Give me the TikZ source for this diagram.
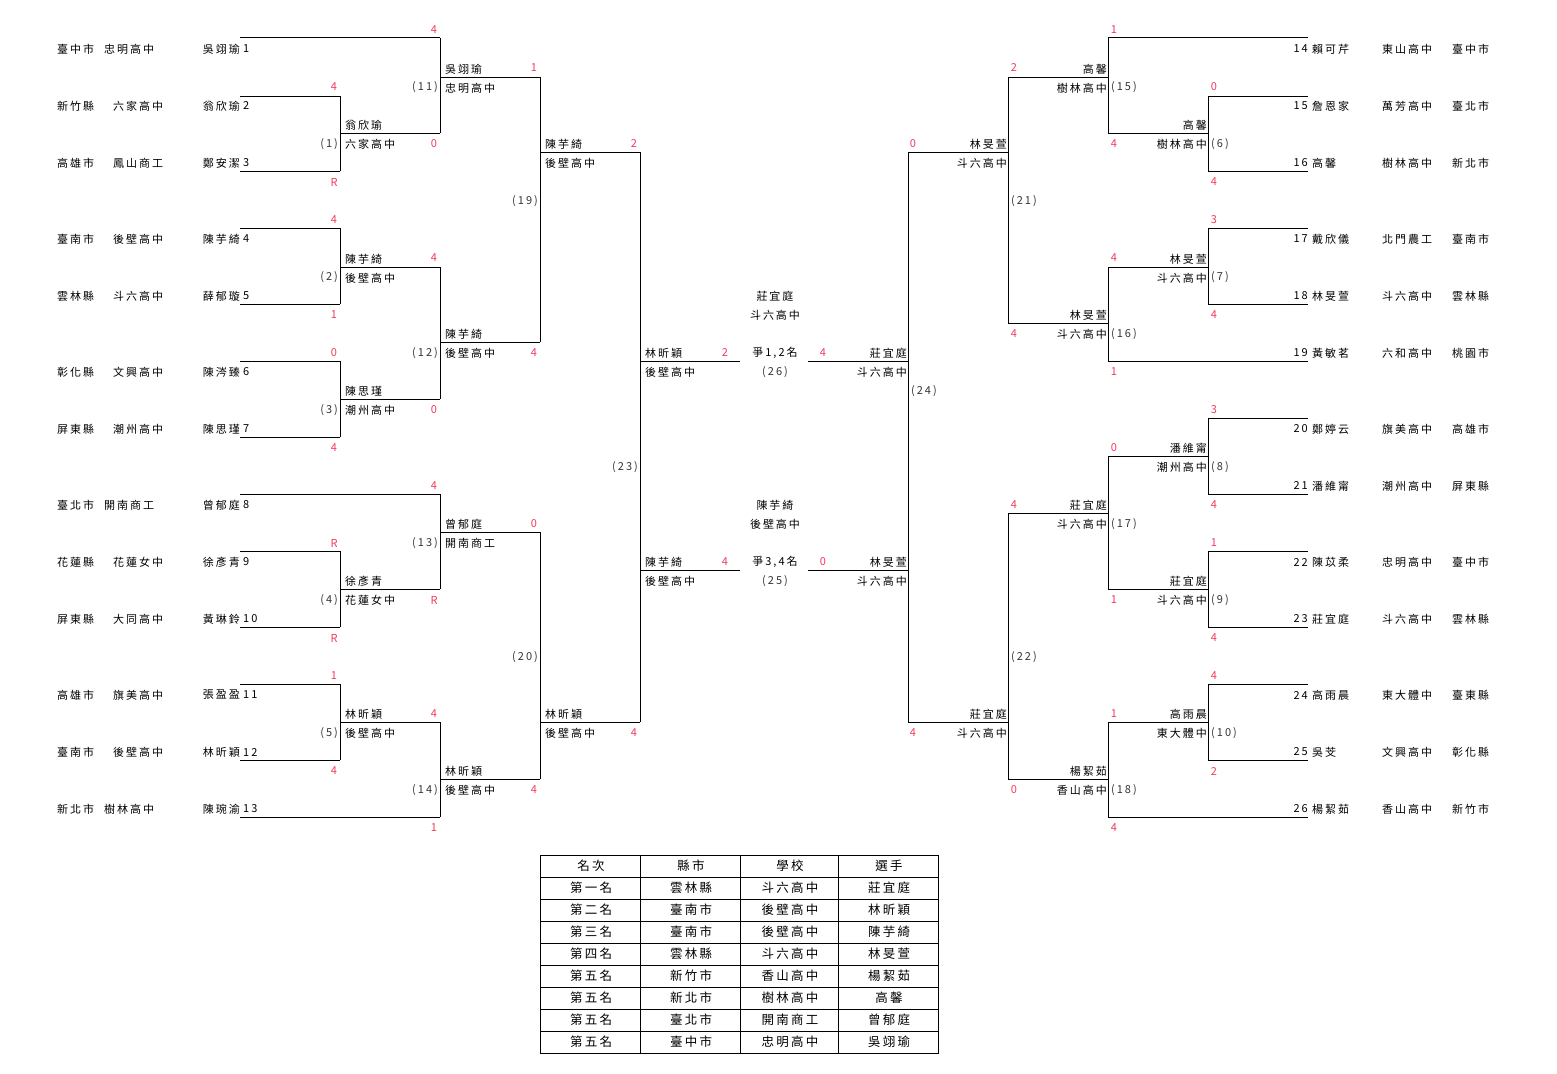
\documentclass[tikz,border=0pt]{standalone}
\usepackage{fontspec}
\setmainfont{Noto Sans CJK TC}[LetterSpace=18]
\usepackage{tikz}
\usetikzlibrary{positioning}
\definecolor{scorered}{RGB}{242,58,92}

\tikzset{
  bracket/.style={black,line width=1pt},
  txt/.style={inner sep=0pt,font=\fontsize{11}{13}\selectfont},
  scr/.style={txt,text=scorered},
  lbl/.style={txt,text=black!80},
  cell/.style={inner sep=0pt,font=\fontsize{12.5}{15}\selectfont}
}

\begin{document}
\begin{tikzpicture}[x=1pt,y=-1pt]
\useasboundingbox (0,0) rectangle (1557,1073);

% left half
\foreach \y/\xe in {38/440,96/340,171/340,228/340,304/340,361/340,437/340,494/440,551/340,627/340,684/340,760/340,817/440}
  \draw[bracket] (240,\y) -- (\xe,\y);
\foreach \xv/\ya/\yb/\yo in {340/96/171/133,340/228/304/267,340/361/437/399,340/551/627/589,340/684/760/722,
  440/38/133/77,440/267/399/342,440/494/589/532,440/722/817/779,540/77/342/152,540/532/779/722,640/152/722/361}
  \draw[bracket] (\xv,\ya) -- (\xv,\yb) (\xv,\yo) -- ++(100,0);
\draw[bracket] (640,570) -- (740,570);

% right half
\foreach \y/\xs in {38/1108,96/1208,171/1208,228/1208,304/1208,361/1108,418/1208,494/1208,551/1208,627/1208,684/1208,760/1208,817/1108}
  \draw[bracket] (\xs,\y) -- (1308,\y);
\foreach \xv/\ya/\yb/\yo in {1208/96/171/133,1208/228/304/267,1208/418/494/456,1208/551/627/589,1208/684/760/722,
  1108/38/133/77,1108/267/361/323,1108/456/589/513,1108/722/817/779,1008/77/323/152,1008/513/779/722,908/152/722/361}
  \draw[bracket] (\xv,\ya) -- (\xv,\yb) (\xv,\yo) -- ++(-100,0);
\draw[bracket] (808,570) -- (908,570);

% players
\foreach \n/\y/\city/\sx/\school/\name in {1/49/臺中市/104/忠明高中/吳翊瑜,2/106/新竹縣/113/六家高中/翁欣瑜,
  3/163/高雄市/113/鳳山商工/鄭安潔,4/239/臺南市/113/後壁高中/陳芋綺,5/296/雲林縣/113/斗六高中/薛郁璇,
  6/372/彰化縣/113/文興高中/陳涔臻,7/429/屏東縣/113/潮州高中/陳思瑾,8/505/臺北市/104/開南商工/曾郁庭,
  9/562/花蓮縣/113/花蓮女中/徐彥青,10/619/屏東縣/113/大同高中/黃琳鈴,11/695/高雄市/113/旗美高中/張盈盈,
  12/752/臺南市/113/後壁高中/林昕穎,13/809/新北市/104/樹林高中/陳琬渝}
{
  \node[txt,anchor=west] (city\n) at (57,\y) {\city};
  \node[txt,anchor=west] (school\n) at (\sx,\y) {\school};
  \node[txt,anchor=east] (name\n) at (240,\y) {\name};
  \node[txt,anchor=west] (seed\n) at (243,\y) {\n};
}
\foreach \n/\y/\name/\school/\city in {14/49/賴可芹/東山高中/臺中市,15/106/詹恩家/萬芳高中/臺北市,
  16/163/高馨/樹林高中/新北市,17/239/戴欣儀/北門農工/臺南市,18/296/林旻萱/斗六高中/雲林縣,
  19/353/黃敏茗/六和高中/桃園市,20/429/鄭婷云/旗美高中/高雄市,21/486/潘維甯/潮州高中/屏東縣,
  22/562/陳苡柔/忠明高中/臺中市,23/619/莊宜庭/斗六高中/雲林縣,24/695/高雨晨/東大體中/臺東縣,
  25/752/吳芠/文興高中/彰化縣,26/809/楊絜茹/香山高中/新竹市}
{
  \node[txt,anchor=east] (seed\n) at (1308,\y) {\n};
  \node[txt,anchor=west] (name\n) at (1312,\y) {\name};
  \node[txt,anchor=west] (school\n) at (1382,\y) {\school};
  \node[txt,anchor=west] (city\n) at (1452,\y) {\city};
}

% winners
\foreach \m/\x/\y/\name/\school in {1/345/133/翁欣瑜/六家高中,2/345/267/陳芋綺/後壁高中,3/345/399/陳思瑾/潮州高中,
  4/345/589/徐彥青/花蓮女中,5/345/722/林昕穎/後壁高中,11/445/77/吳翊瑜/忠明高中,12/445/342/陳芋綺/後壁高中,
  13/445/532/曾郁庭/開南商工,14/445/779/林昕穎/後壁高中,19/545/152/陳芋綺/後壁高中,20/545/722/林昕穎/後壁高中,
  23/645/361/林昕穎/後壁高中,25a/645/570/陳芋綺/後壁高中}
{
  \node[txt,anchor=west] (win\m) at (\x,\y-8) {\name};
  \node[txt,anchor=west] (winsch\m) at (\x,\y+11) {\school};
}
\foreach \m/\x/\y/\name/\school in {6/1207/133/高馨/樹林高中,7/1207/267/林旻萱/斗六高中,8/1207/456/潘維甯/潮州高中,
  9/1207/589/莊宜庭/斗六高中,10/1207/722/高雨晨/東大體中,15/1107/77/高馨/樹林高中,16/1107/323/林旻萱/斗六高中,
  17/1107/513/莊宜庭/斗六高中,18/1107/779/楊絜茹/香山高中,21/1007/152/林旻萱/斗六高中,22/1007/722/莊宜庭/斗六高中,
  24/907/361/莊宜庭/斗六高中,25b/907/570/林旻萱/斗六高中}
{
  \node[txt,anchor=east] (win\m) at (\x,\y-8) {\name};
  \node[txt,anchor=east] (winsch\m) at (\x,\y+11) {\school};
}

% scores
\foreach \x/\y/\s [count=\i] in {434/30/4,334/87/4,534/68/1,334/182/R,434/144/0,634/144/2,334/220/4,434/258/4,
  334/315/1,334/353/0,534/353/4,434/410/0,334/448/4,434/486/4,534/524/0,334/543/R,434/600/R,334/638/R,
  334/676/1,434/714/4,334/771/4,534/790/4,434/828/1,634/733/4,725/353/2,725/562/4,
  1114/30/1,1214/87/0,1014/68/2,1114/144/4,1214/182/4,913/144/0,1214/220/3,1114/258/4,1214/315/4,
  1014/334/4,1114/372/1,1214/410/3,1114/448/0,1214/505/4,1014/505/4,1214/543/1,1114/600/1,1214/638/4,
  1214/676/4,1114/714/1,1214/771/2,1014/790/0,1114/828/4,913/733/4,823/353/4,823/562/0}
  \node[scr] (score\i) at (\x,\y) {\s};

% match numbers
\foreach \x/\y/\t in {338/144/1,338/277/2,338/410/3,338/600/4,338/733/5,438/87/11,438/353/12,438/543/13,
  438/790/14,538/201/19,538/657/20,638/467/23}
  \node[lbl,anchor=east] (match\t) at (\x,\y) {(\t)};
\foreach \x/\y/\t in {1211/144/6,1211/277/7,1211/467/8,1211/600/9,1211/733/10,1111/87/15,1111/334/16,
  1111/524/17,1111/790/18,1011/201/21,1011/657/22,911/391/24}
  \node[lbl,anchor=west] (match\t) at (\x,\y) {(\t)};

% finals
\node[txt] (champ) at (775,296) {莊宜庭};
\node[txt] (champsch) at (775,315) {斗六高中};
\node[txt] (final) at (775,353) {爭1,2名};
\node[lbl] (match26) at (775,372) {(26)};
\node[txt] (third) at (775,505) {陳芋綺};
\node[txt] (thirdsch) at (775,524) {後壁高中};
\node[txt] (bronze) at (775,562) {爭3,4名};
\node[lbl] (match25) at (775,581) {(25)};

% ranking table
\draw[line width=1pt] (540,855) rectangle (938,1053);
\foreach \y in {877,899,921,943,965,987,1009,1031}
  \draw[line width=1pt] (540,\y) -- (938,\y);
\foreach \x in {640,740,838}
  \draw[line width=1pt] (\x,855) -- (\x,1053);
\foreach \a/\b/\c/\d [count=\i from 0] in {名次/縣市/學校/選手,第一名/雲林縣/斗六高中/莊宜庭,
  第二名/臺南市/後壁高中/林昕穎,第三名/臺南市/後壁高中/陳芋綺,第四名/雲林縣/斗六高中/林旻萱,
  第五名/新竹市/香山高中/楊絜茹,第五名/新北市/樹林高中/高馨,第五名/臺北市/開南商工/曾郁庭,
  第五名/臺中市/忠明高中/吳翊瑜}
{
  \node[cell] (rank\i) at (591,866+22*\i) {\a};
  \node[cell] (county\i) at (691,866+22*\i) {\b};
  \node[cell] (team\i) at (790,866+22*\i) {\c};
  \node[cell] (player\i) at (889,866+22*\i) {\d};
}
\end{tikzpicture}
\end{document}
